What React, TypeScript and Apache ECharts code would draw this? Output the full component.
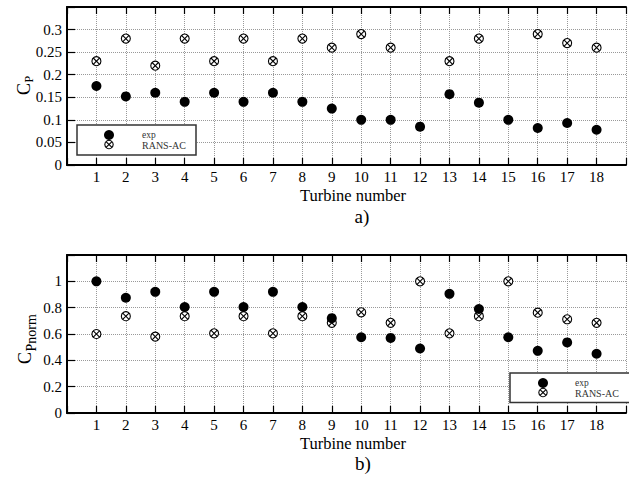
import React, { useEffect, useRef } from "react";
import * as echarts from "echarts";

const turbines = [1, 2, 3, 4, 5, 6, 7, 8, 9, 10, 11, 12, 13, 14, 15, 16, 17, 18];
const cpExp = [0.175, 0.152, 0.16, 0.14, 0.16, 0.14, 0.16, 0.14, 0.125, 0.1, 0.1, 0.085, 0.157, 0.138, 0.1, 0.082, 0.093, 0.078];
const cpRans: (number | null)[] = [0.23, 0.28, 0.22, 0.28, 0.23, 0.28, 0.23, 0.28, 0.26, 0.29, 0.26, null, 0.23, 0.28, null, 0.29, 0.27, 0.26];
const cpnExp = [1.0, 0.875, 0.92, 0.805, 0.92, 0.805, 0.92, 0.805, 0.72, 0.575, 0.57, 0.49, 0.905, 0.79, 0.575, 0.472, 0.536, 0.45];
const cpnRans = [0.6, 0.735, 0.58, 0.735, 0.605, 0.735, 0.605, 0.735, 0.685, 0.765, 0.685, 1.0, 0.605, 0.735, 1.0, 0.762, 0.712, 0.685];
const seriesNames = ["exp", "RANS-AC"];
const xLabel = "Turbine number";
const panelLabels = ["a)", "b)"];

const FONT = "Liberation Serif";

function pairs(vals: (number | null)[]) {
  return turbines
    .map((t, i) => [t, vals[i]])
    .filter((p) => p[1] !== null && p[1] !== undefined);
}

function crossedShape(cx: number, cy: number, r: number, z = 0) {
  const d = r * 0.7071;
  const st = { stroke: "#000", lineWidth: 1.1 };
  return [
    { type: "circle", z, shape: { cx, cy, r }, style: { fill: "#fff", stroke: "#000", lineWidth: 1.1 } },
    { type: "line", z, shape: { x1: cx - d, y1: cy - d, x2: cx + d, y2: cy + d }, style: st },
    { type: "line", z, shape: { x1: cx - d, y1: cy + d, x2: cx + d, y2: cy - d }, style: st },
  ];
}

function crossedRender(params: any, api: any) {
  const p = api.coord([api.value(0), api.value(1)]);
  return { type: "group", children: crossedShape(p[0], p[1], 4.5) };
}

function xAxes(gridIndex: number) {
  const common = {
    type: "value",
    gridIndex,
    min: 0,
    max: 19,
    interval: 1,
    axisLine: { show: true, onZero: false, lineStyle: { color: "#000", width: 2 } },
    axisTick: { show: true, inside: true, length: 7, lineStyle: { color: "#000", width: 1.2 } },
  };
  return [
    {
      ...common,
      position: "bottom",
      axisLabel: {
        fontFamily: FONT,
        fontSize: 15,
        color: "#000",
        margin: 4,
        formatter: (v: number) => (v >= 1 && v <= 18 ? String(v) : ""),
      },
      splitLine: { show: true, lineStyle: { color: "#999", type: "dotted", width: 1 } },
    },
    {
      ...common,
      position: "top",
      axisLabel: { show: false },
      splitLine: { show: false },
    },
  ];
}

function yAxis(gridIndex: number, max: number, interval: number, lastLabel: number, dec: number) {
  return {
    type: "value",
    gridIndex,
    min: 0,
    max,
    interval,
    axisLine: { show: true, onZero: false, lineStyle: { color: "#000", width: 2 } },
    axisTick: { show: true, inside: true, length: 8, lineStyle: { color: "#000", width: 1.2 } },
    axisLabel: {
      fontFamily: FONT,
      fontSize: 15,
      color: "#000",
      margin: 5,
      formatter: (v: number) => (v > lastLabel + 1e-6 ? "" : String(Math.round(v * dec) / dec)),
    },
    splitLine: { show: true, lineStyle: { color: "#999", type: "dotted", width: 1 } },
  };
}

function legend(x: number, y: number, w: number, h: number, mx: number, tx: number) {
  return {
    type: "group",
    z: 100,
    children: [
      { type: "rect", z: 100, shape: { x, y, width: w, height: h }, style: { fill: "#fff", stroke: "#333", lineWidth: 1.5 } },
      { type: "circle", z: 101, shape: { cx: mx, cy: y + 10, r: 5 }, style: { fill: "#000" } },
      ...crossedShape(mx, y + 19.5, 4.2, 101),
      { type: "text", z: 101, style: { x: tx, y: y + 9.5, text: seriesNames[0], font: `9.5px "${FONT}"`, fill: "#333", textVerticalAlign: "middle" } },
      { type: "text", z: 101, style: { x: tx, y: y + 20, text: seriesNames[1], font: `10px "${FONT}"`, fill: "#333", textVerticalAlign: "middle" } },
    ],
  };
}

function yName(gx: number, gy: number, sub: string, subSize: number, subOffset: number) {
  return {
    type: "group",
    x: gx,
    y: gy,
    rotation: Math.PI / 2,
    children: [
      { type: "text", style: { x: 0, y: 0, text: "C", font: `18px "${FONT}"`, fill: "#000", textAlign: "left", textVerticalAlign: "middle" } },
      { type: "text", style: { x: 12.5, y: subOffset, text: sub, font: `${subSize}px "${FONT}"`, fill: "#000", textAlign: "left", textVerticalAlign: "middle" } },
    ],
  };
}

export default function App() {
  const ref = useRef<HTMLDivElement>(null);
  useEffect(() => {
    document.body.style.margin = "0";
    if (!ref.current) return;
    const chart = echarts.init(ref.current, null, { renderer: "svg" });
    const option: any = {
      animation: false,
      backgroundColor: "#fff",
      grid: [
        { left: 67, top: 7, right: -10, height: 158 },
        { left: 67, top: 255, right: -10, height: 158 },
      ],
      xAxis: [...xAxes(0), ...xAxes(1)],
      yAxis: [yAxis(0, 0.35, 0.05, 0.3, 100), yAxis(1, 1.2, 0.2, 1.0, 10)],
      series: [
        {
          name: seriesNames[0],
          type: "scatter",
          xAxisIndex: 0,
          yAxisIndex: 0,
          symbol: "circle",
          symbolSize: 10,
          itemStyle: { color: "#000", opacity: 1 },
          data: pairs(cpExp),
        },
        {
          name: seriesNames[1],
          type: "custom",
          coordinateSystem: "cartesian2d",
          xAxisIndex: 0,
          yAxisIndex: 0,
          renderItem: crossedRender,
          data: pairs(cpRans),
        },
        {
          name: seriesNames[0],
          type: "scatter",
          xAxisIndex: 2,
          yAxisIndex: 1,
          symbol: "circle",
          symbolSize: 10,
          itemStyle: { color: "#000", opacity: 1 },
          data: pairs(cpnExp),
        },
        {
          name: seriesNames[1],
          type: "custom",
          coordinateSystem: "cartesian2d",
          xAxisIndex: 2,
          yAxisIndex: 1,
          renderItem: crossedRender,
          data: pairs(cpnRans),
        },
      ],
      graphic: [
        legend(77, 125, 119, 30, 109, 142),
        legend(510, 373, 130, 29.5, 543, 575),
        { type: "text", style: { x: 353, y: 195, text: xLabel, font: `16.5px "${FONT}"`, fill: "#000", textAlign: "center", textVerticalAlign: "middle" } },
        { type: "text", style: { x: 362, y: 216, text: panelLabels[0], font: `19px "${FONT}"`, fill: "#000", textAlign: "center", textVerticalAlign: "middle" } },
        { type: "text", style: { x: 353, y: 443, text: xLabel, font: `16.5px "${FONT}"`, fill: "#000", textAlign: "center", textVerticalAlign: "middle" } },
        { type: "text", style: { x: 363, y: 463, text: panelLabels[1], font: `19px "${FONT}"`, fill: "#000", textAlign: "center", textVerticalAlign: "middle" } },
        yName(24, 95, "P", 12, 5),
        yName(25, 364, "Pnorm", 14, 6),
      ],
    };
    chart.setOption(option);
    return () => chart.dispose();
  }, []);
  return <div ref={ref} style={{ width: 629, height: 483, position: "absolute", left: 0, top: 0 }} />;
}
